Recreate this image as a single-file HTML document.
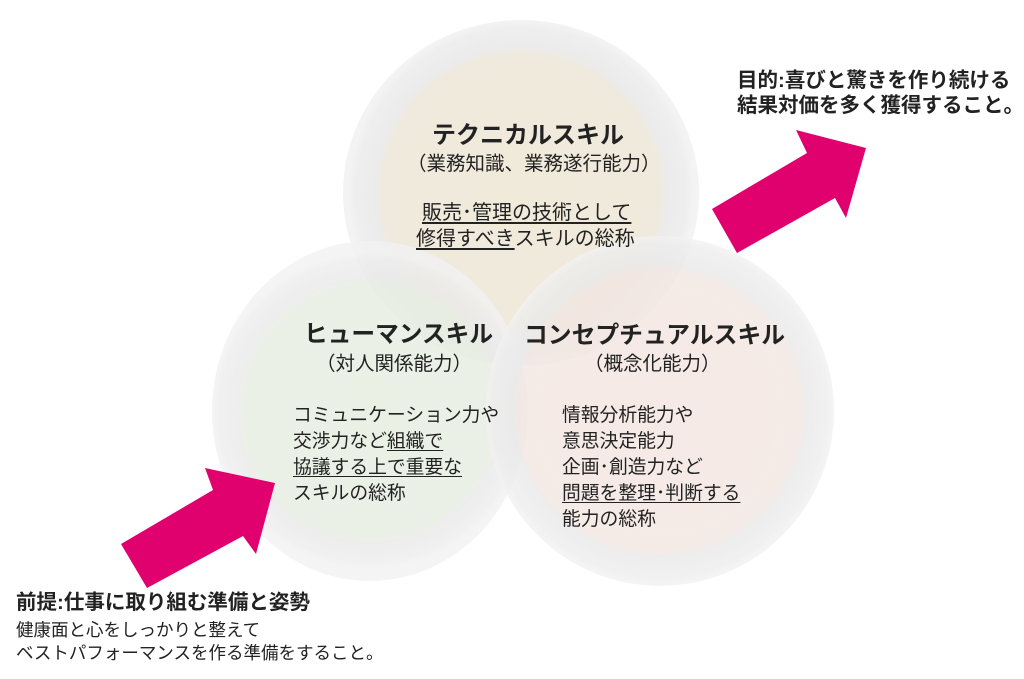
<!DOCTYPE html>
<html><head><meta charset="utf-8"><style>
body{margin:0;width:1024px;height:679px;background:#fff;overflow:hidden;position:relative;font-family:"Liberation Sans","Noto Sans CJK JP",sans-serif;color:#222}
.t{position:absolute;white-space:nowrap;line-height:1}
.c{position:absolute;border-radius:50%}
u{text-decoration:underline;text-underline-offset:3px}
</style></head><body>
<div class="c" style="left:343px;top:20px;width:356px;height:346px;background:radial-gradient(circle closest-side,#efe8d6 0%,#eee8da 80%,#e9e9e9 85%,#ededed 96%,#f2f2f2 100%);opacity:.9"></div>
<div class="c" style="left:212px;top:241px;width:316px;height:340px;background:radial-gradient(circle closest-side,#e4eddd 0%,#e6ede1 80%,#e9e9e9 85%,#ededed 96%,#f2f2f2 100%);opacity:.8"></div>
<div class="c" style="left:486px;top:236px;width:348px;height:350px;background:radial-gradient(circle closest-side,#f3e4de 0%,#f2e6e1 80%,#e9e9e9 85%,#ededed 96%,#f2f2f2 100%);opacity:.8"></div>
<svg width="1024" height="679" style="position:absolute;left:0;top:0">
<polygon points="121,544 213,490 205,468 275,483 256,554 243,536 147,588" fill="#e0006e"/>
<polygon points="712,209 807,153 796,130 866,148 846,218 835,198 737,253" fill="#e0006e"/>
</svg>
<div class="t" style="left:432px;top:124px;font-size:24px;font-weight:bold">テクニカルスキル</div>
<div class="t" style="left:407px;top:155px;font-size:19.5px">（業務知識、業務遂行能力）</div>
<div class="t" style="left:422px;top:203px;font-size:20px"><u>販売･管理の技術として</u></div>
<div class="t" style="left:416px;top:229px;font-size:20px"><u>修得すべき</u>スキルの総称</div>
<div class="t" style="left:304px;top:324px;font-size:23.7px;font-weight:bold">ヒューマンスキル</div>
<div class="t" style="left:316px;top:355px;font-size:19.5px">（対人関係能力）</div>
<div class="t" style="left:293px;top:402px;font-size:18.8px;line-height:26px">コミュニケーション力や<br>交渉力など<u>組織で</u><br><u>協議する上で重要な</u><br>スキルの総称</div>
<div class="t" style="left:524px;top:324px;font-size:23.8px;font-weight:bold">コンセプチュアルスキル</div>
<div class="t" style="left:584px;top:355px;font-size:19.5px">（概念化能力）</div>
<div class="t" style="left:562px;top:402px;font-size:18.8px;line-height:26px">情報分析能力や<br>意思決定能力<br>企画･創造力など<br><u>問題を整理･判断する</u><br>能力の総称</div>
<div class="t" style="left:737px;top:68px;font-size:20.5px;font-weight:bold;line-height:25px">目的:喜びと驚きを作り続ける<br>結果対価を多く獲得すること。</div>
<div class="t" style="left:16px;top:593px;font-size:20.5px;font-weight:bold">前提:仕事に取り組む準備と姿勢</div>
<div class="t" style="left:16px;top:619px;font-size:17.5px;line-height:23px">健康面と心をしっかりと整えて<br>ベストパフォーマンスを作る準備をすること。</div>
</body></html>
